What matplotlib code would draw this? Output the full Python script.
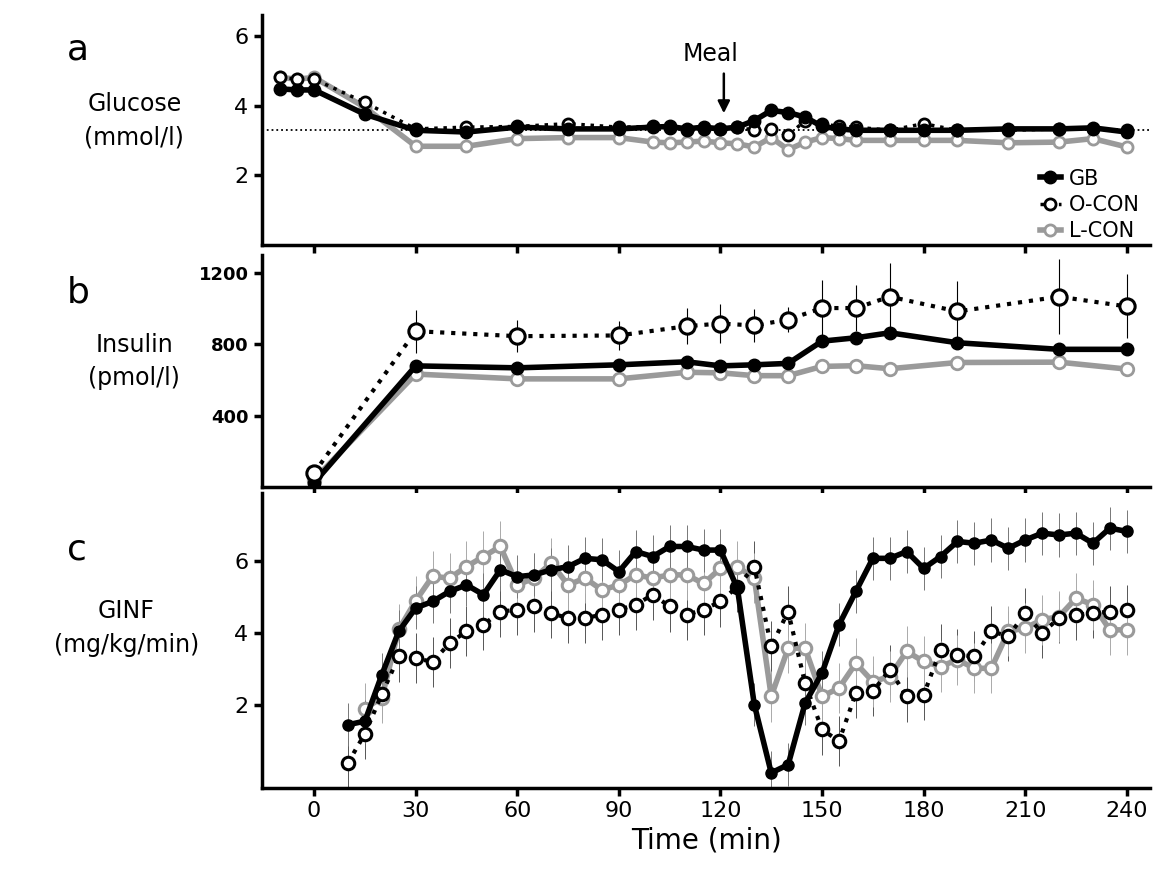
import matplotlib.pyplot as plt
import numpy as np

# glucose (panel a)
t_glu = [-10, -5, 0, 15, 30, 45, 60, 75, 90, 100, 105, 110, 115, 120, 125, 130, 135, 140,
         145, 150, 155, 160, 170, 180, 190, 205, 220, 230, 240]
glu_gb = [4.48, 4.45, 4.45, 3.75, 3.29, 3.24, 3.38, 3.33, 3.33, 3.38, 3.40, 3.33, 3.38, 3.33,
          3.38, 3.57, 3.86, 3.80, 3.67, 3.40, 3.33, 3.29, 3.29, 3.29, 3.29, 3.33, 3.33, 3.36, 3.24]
glu_ocon = [4.81, 4.76, 4.76, 4.09, 3.33, 3.38, 3.40, 3.48, 3.38, 3.40, 3.36, 3.29, 3.33, 3.33,
            3.38, 3.29, 3.33, 3.14, 3.57, 3.48, 3.40, 3.38, 3.29, 3.48, 3.29, 3.29, 3.33, 3.33, 3.29]
glu_lcon = [4.81, 4.76, 4.81, 3.95, 2.83, 2.83, 3.05, 3.08, 3.08, 2.95, 2.93, 2.95, 2.98, 2.93,
            2.90, 2.81, 3.08, 2.73, 2.95, 3.08, 3.05, 3.00, 3.00, 3.00, 3.00, 2.93, 2.95, 3.05, 2.81]

# insulin (panel b)
t_ins = [0, 30, 60, 90, 110, 120, 130, 140, 150, 160, 170, 190, 220, 240]
ins_gb = [22, 679, 668, 685, 702, 679, 685, 693, 818, 837, 865, 809, 772, 772]
ins_ocon = [78, 874, 846, 850, 902, 917, 906, 939, 1004, 1004, 1068, 985, 1068, 1013]
ins_lcon = [40, 633, 606, 606, 643, 640, 624, 624, 676, 680, 663, 698, 700, 661]
ins_ocon_err = [20, 120, 90, 80, 100, 110, 90, 70, 160, 130, 190, 170, 210, 180]

# GINF (panel c)
t_gb = list(range(10, 241, 5))
ginf_gb = [1.45, 1.55, 2.84, 4.05, 4.70, 4.88, 5.16, 5.34, 5.07, 5.76, 5.57, 5.62, 5.76, 5.85,
           6.08, 6.04, 5.71, 6.27, 6.13, 6.41, 6.41, 6.31, 6.31, 5.25, 2.01, 0.11, 0.34, 2.05,
           2.89, 4.23, 5.16, 6.08, 6.08, 6.27, 5.80, 6.13, 6.55, 6.50, 6.59, 6.36, 6.59, 6.78,
           6.73, 6.78, 6.50, 6.92, 6.83]
t_oc = list(range(10, 241, 5))
ginf_ocon = [0.39, 1.20, 2.30, 3.35, 3.30, 3.20, 3.72, 4.05, 4.23, 4.60, 4.65, 4.74, 4.55, 4.42,
             4.42, 4.51, 4.65, 4.79, 5.07, 4.74, 4.51, 4.65, 4.88, 5.29, 5.85, 3.63, 4.60, 2.60,
             1.32, 0.99, 2.33, 2.38, 2.98, 2.24, 2.28, 3.54, 3.40, 3.35, 4.05, 3.91, 4.55, 4.00,
             4.42, 4.51, 4.55, 4.60, 4.65]
t_lc = list(range(15, 241, 5))
ginf_lcon = [1.90, 2.20, 4.10, 4.90, 5.58, 5.53, 5.85, 6.13, 6.41, 5.34, 5.53, 5.95, 5.34, 5.53,
             5.20, 5.34, 5.62, 5.53, 5.62, 5.62, 5.38, 5.80, 5.85, 5.53, 2.24, 3.58, 3.58, 2.24,
             2.47, 3.16, 2.65, 2.79, 3.49, 3.21, 3.07, 3.26, 3.02, 3.02, 4.05, 4.14, 4.37, 4.46,
             4.97, 4.79, 4.09, 4.09]

grey = '#9a9a9a'
fig = plt.figure(figsize=(11.68, 8.93), dpi=100)
L, W = 0.224, 0.761
axa = fig.add_axes([L, 0.726, W, 0.257])
axb = fig.add_axes([L, 0.455, W, 0.259])
axc = fig.add_axes([L, 0.118, W, 0.330])

def style(ax):
    for s in ['top', 'right']:
        ax.spines[s].set_visible(False)
    for s in ['left', 'bottom']:
        ax.spines[s].set_linewidth(2.5)
    ax.tick_params(width=2.5, length=6, labelsize=16)
    ax.set_xlim(-15.5, 247)
    ax.set_xticks(range(0, 241, 30))

for ax in (axa, axb, axc):
    style(ax)
axa.tick_params(axis='x', labelbottom=False)
axb.tick_params(axis='x', labelbottom=False)

# panel a
axa.axhline(3.3, color='black', ls=':', lw=1.3, zorder=0)
axa.plot(t_glu, glu_ocon, ':', color='black', lw=2.5, marker='o', ms=8, mfc='white',
         mec='black', mew=2, label='O-CON', zorder=3)
axa.plot(t_glu, glu_lcon, '-', color=grey, lw=4, marker='o', ms=8, mfc='white',
         mec=grey, mew=2, label='L-CON', zorder=2)
axa.plot(t_glu, glu_gb, '-', color='black', lw=4, marker='o', ms=9, label='GB', zorder=4)
axa.set_ylim(0, 6.6)
axa.set_yticks([2, 4, 6])
axa.annotate('', xy=(121, 3.7), xytext=(121, 5.0),
             arrowprops=dict(arrowstyle='-|>', color='black', lw=1.8, mutation_scale=18))
axa.text(117, 5.15, 'Meal', ha='center', va='bottom', fontsize=17)
h, lab = axa.get_legend_handles_labels()
order = [2, 0, 1]
axa.legend([h[i] for i in order], [lab[i] for i in order], loc='lower right', frameon=False,
           fontsize=15, handlelength=1.0, handletextpad=0.4, labelspacing=0.3,
           borderaxespad=0.1, bbox_to_anchor=(1.0, -0.03))

# panel b
axb.errorbar(t_ins, ins_ocon, yerr=ins_ocon_err, fmt='none', ecolor='black', elinewidth=0.8, zorder=1)
axb.plot(t_ins, ins_ocon, ':', color='black', lw=3, marker='o', ms=11, mfc='white',
         mec='black', mew=2.2, zorder=4)
axb.plot(t_ins, ins_lcon, '-', color=grey, lw=4, marker='o', ms=9, mfc='white',
         mec=grey, mew=2, zorder=2)
axb.plot(t_ins, ins_gb, '-', color='black', lw=4, marker='o', ms=9, zorder=3)
axb.set_ylim(0, 1300)
axb.set_yticks([400, 800, 1200])
axb.tick_params(axis='y', labelsize=13)
for tl in axb.get_yticklabels():
    tl.set_fontweight('bold')

# panel c
axc.errorbar(t_oc, ginf_ocon, yerr=0.7, fmt='none', ecolor='#555555', elinewidth=0.7, zorder=1)
axc.errorbar(t_lc, ginf_lcon, yerr=0.7, fmt='none', ecolor='#aaaaaa', elinewidth=0.7, zorder=1)
axc.errorbar(t_gb, ginf_gb, yerr=0.6, fmt='none', ecolor='#777777', elinewidth=0.7, zorder=1)
axc.plot(t_oc, ginf_ocon, ':', color='black', lw=3, marker='o', ms=9, mfc='white',
         mec='black', mew=2.2, zorder=3)
axc.plot(t_lc, ginf_lcon, '-', color=grey, lw=4, marker='o', ms=9, mfc='white',
         mec=grey, mew=2.2, zorder=2)
axc.plot(t_gb, ginf_gb, '-', color='black', lw=4, marker='o', ms=8, zorder=4)
axc.set_ylim(-0.3, 7.9)
axc.set_yticks([2, 4, 6])
axc.set_xlabel('Time (min)', fontsize=20)

# panel letters and y labels
fig.text(0.057, 0.945, 'a', fontsize=26, va='center')
fig.text(0.057, 0.672, 'b', fontsize=26, va='center')
fig.text(0.057, 0.385, 'c', fontsize=26, va='center')
fig.text(0.115, 0.865, 'Glucose\n(mmol/l)', fontsize=17, ha='center', va='center', linespacing=1.5)
fig.text(0.115, 0.595, 'Insulin\n(pmol/l)', fontsize=17, ha='center', va='center', linespacing=1.5)
fig.text(0.108, 0.297, 'GINF\n(mg/kg/min)', fontsize=17, ha='center', va='center', linespacing=1.5)

fig.savefig('out.png', dpi=100)
